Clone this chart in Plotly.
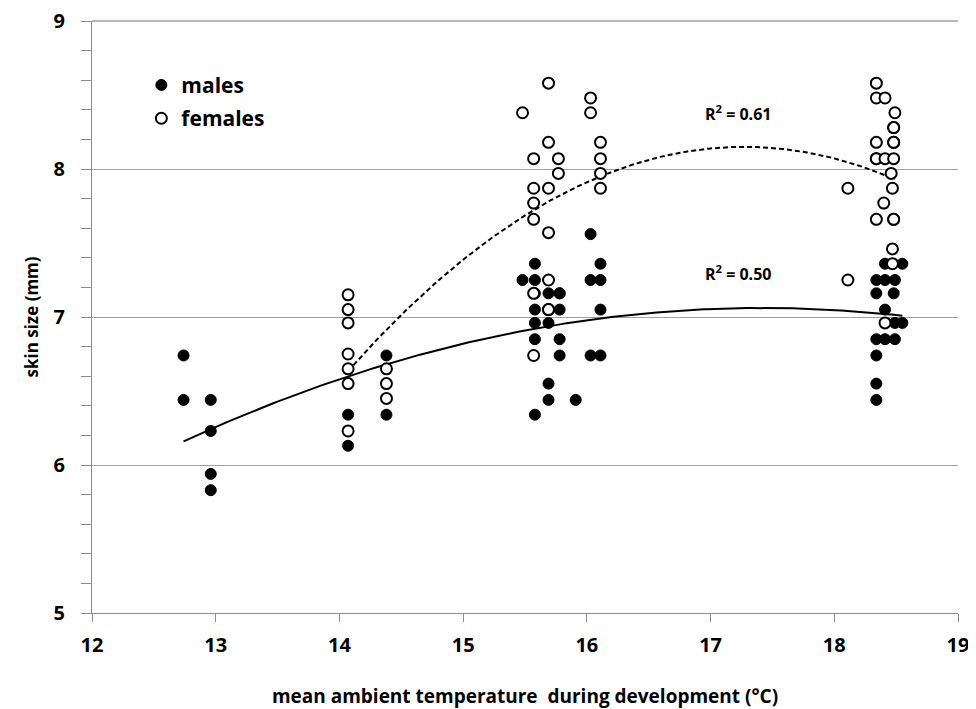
import numpy as np
import plotly.graph_objects as go

# ---- data ----
male_x = [12.74, 12.74, 12.96, 12.96, 12.96, 12.96,
          14.07, 14.07, 14.38, 14.38,
          15.48, 15.58, 15.58, 15.58, 15.58, 15.58, 15.58, 15.58,
          15.69, 15.69, 15.69, 15.69, 15.78, 15.78, 15.78, 15.78, 15.78,
          15.91, 16.03, 16.03, 16.03, 16.11, 16.11, 16.11, 16.11,
          18.34, 18.34, 18.34, 18.34, 18.34, 18.34, 18.41, 18.41, 18.41, 18.41,
          18.48, 18.49, 18.49, 18.49, 18.55, 18.55]
male_y = [6.74, 6.44, 6.44, 6.23, 5.94, 5.83,
          6.34, 6.13, 6.74, 6.34,
          7.25, 7.36, 7.25, 7.05, 6.96, 6.85, 6.34, 7.16,
          7.16, 6.96, 6.55, 6.44, 7.16, 7.05, 6.85, 6.74, 7.16,
          6.44, 7.56, 7.25, 6.74, 7.36, 7.25, 7.05, 6.74,
          7.25, 7.16, 6.85, 6.74, 6.55, 6.44, 7.36, 7.25, 7.05, 6.85,
          7.16, 7.25, 6.96, 6.85, 7.36, 6.96]

female_x = [14.07, 14.07, 14.07, 14.07, 14.07, 14.07, 14.07,
            14.38, 14.38, 14.38,
            15.48, 15.57, 15.57, 15.57, 15.57, 15.57, 15.57,
            15.69, 15.69, 15.69, 15.69, 15.69, 15.69, 15.69,
            15.77, 15.77, 16.03, 16.03,
            16.11, 16.11, 16.11, 16.11,
            18.11, 18.11,
            18.34, 18.34, 18.34, 18.34, 18.34, 18.34,
            18.40, 18.41, 18.41, 18.41,
            18.46, 18.47, 18.47, 18.47,
            18.48, 18.48, 18.48, 18.48, 18.48, 18.48, 18.48, 18.49]
female_y = [7.15, 7.05, 6.96, 6.75, 6.65, 6.55, 6.23,
            6.65, 6.55, 6.45,
            8.38, 8.07, 7.87, 7.77, 7.66, 7.16, 6.74,
            8.58, 8.18, 7.87, 7.57, 7.25, 7.05, 7.05,
            8.07, 7.97, 8.48, 8.38,
            8.18, 8.07, 7.97, 7.87,
            7.87, 7.25,
            8.58, 8.48, 8.18, 8.07, 7.66, 8.07,
            7.77, 8.48, 8.07, 6.96,
            7.97, 7.87, 7.46, 7.36,
            8.28, 8.28, 8.18, 8.18, 8.07, 7.66, 7.66, 8.38]

x_ticks = [12, 13, 14, 15, 16, 17, 18, 19]
y_ticks = [5, 6, 7, 8, 9]
r2_male = "R<sup>2</sup> = 0.50"
r2_female = "R<sup>2</sup> = 0.61"

# ---- quadratic trendlines fitted from the data ----
cm = np.polyfit(male_x, male_y, 2)
cf = np.polyfit(female_x, female_y, 2)
xm = np.linspace(min(male_x), max(male_x), 200)
xf = np.linspace(min(female_x), max(female_x), 200)

FONT = "Open Sans"
GRID = "#a0a0a0"
fig = go.Figure()

fig.add_trace(go.Scatter(x=xm, y=np.polyval(cm, xm), mode="lines",
                         line=dict(color="black", width=2), showlegend=False,
                         hoverinfo="skip"))
fig.add_trace(go.Scatter(x=xf, y=np.polyval(cf, xf), mode="lines",
                         line=dict(color="black", width=2, dash="5px,3px"),
                         showlegend=False, hoverinfo="skip"))

fig.add_trace(go.Scatter(x=male_x, y=male_y, mode="markers", name="males",
                         legendgroup="m",
                         marker=dict(symbol="circle", size=11, color="black",
                                     line=dict(color="black", width=1))))
fig.add_trace(go.Scatter(x=female_x, y=female_y, mode="markers", name="females",
                         legendgroup="f",
                         marker=dict(symbol="circle", size=11, color="white",
                                     line=dict(color="black", width=2))))

fig.add_annotation(x=17.22, y=8.38, text=r2_female, showarrow=False,
                   font=dict(family=FONT, size=16, color="black", weight="bold"))
fig.add_annotation(x=17.22, y=7.30, text=r2_male, showarrow=False,
                   font=dict(family=FONT, size=16, color="black", weight="bold"))

# top gridline along the upper edge of the plot area
fig.add_shape(type="line", xref="paper", x0=0, x1=1, yref="paper", y0=1, y1=1,
              line=dict(color=GRID, width=1.5), layer="above")

# page body adds an 8px margin, so the figure is 8px smaller and shifted
fig.update_layout(
    width=968, height=701,
    margin=dict(l=84, r=18, t=13, b=96, autoexpand=False),
    paper_bgcolor="white", plot_bgcolor="white",
    font=dict(family=FONT, color="black"),
    legend=dict(x=0.057, y=0.926, xanchor="left", yanchor="top",
                font=dict(family=FONT, size=21, weight="bold"),
                bgcolor="rgba(0,0,0,0)", itemwidth=30, tracegroupgap=3),
    showlegend=True,
)
fig.update_xaxes(
    range=[12, 19], tickvals=x_ticks, ticktext=[str(v) for v in x_ticks],
    showline=True, linecolor="#8c8c8c", linewidth=1, showgrid=False,
    ticks="outside", ticklen=8, tickcolor="#8c8c8c", zeroline=False, automargin=False,
    tickfont=dict(family=FONT, size=20, weight="bold"), ticklabelstandoff=6,
    ticklabeloverflow="allow",
    title=dict(text="mean ambient temperature  during development (°C)",
               font=dict(family=FONT, size=19, weight="bold"), standoff=36),
)
fig.update_yaxes(
    range=[5, 9], tickvals=y_ticks, ticktext=[str(v) for v in y_ticks],
    showline=True, linecolor="#8c8c8c", linewidth=1, automargin=False,
    showgrid=True, gridcolor=GRID, gridwidth=1, zeroline=False,
    ticks="outside", ticklen=10, tickcolor="#8c8c8c",
    minor=dict(dtick=0.2, ticks="outside", ticklen=10, tickcolor="#8c8c8c", showgrid=False),
    tickfont=dict(family=FONT, size=20, weight="bold"), ticklabelstandoff=12,
    ticklabeloverflow="allow",
    title=dict(text="skin size (mm)", font=dict(family=FONT, size=17, weight="bold"),
               standoff=10),
)

fig.write_html("out.html")
